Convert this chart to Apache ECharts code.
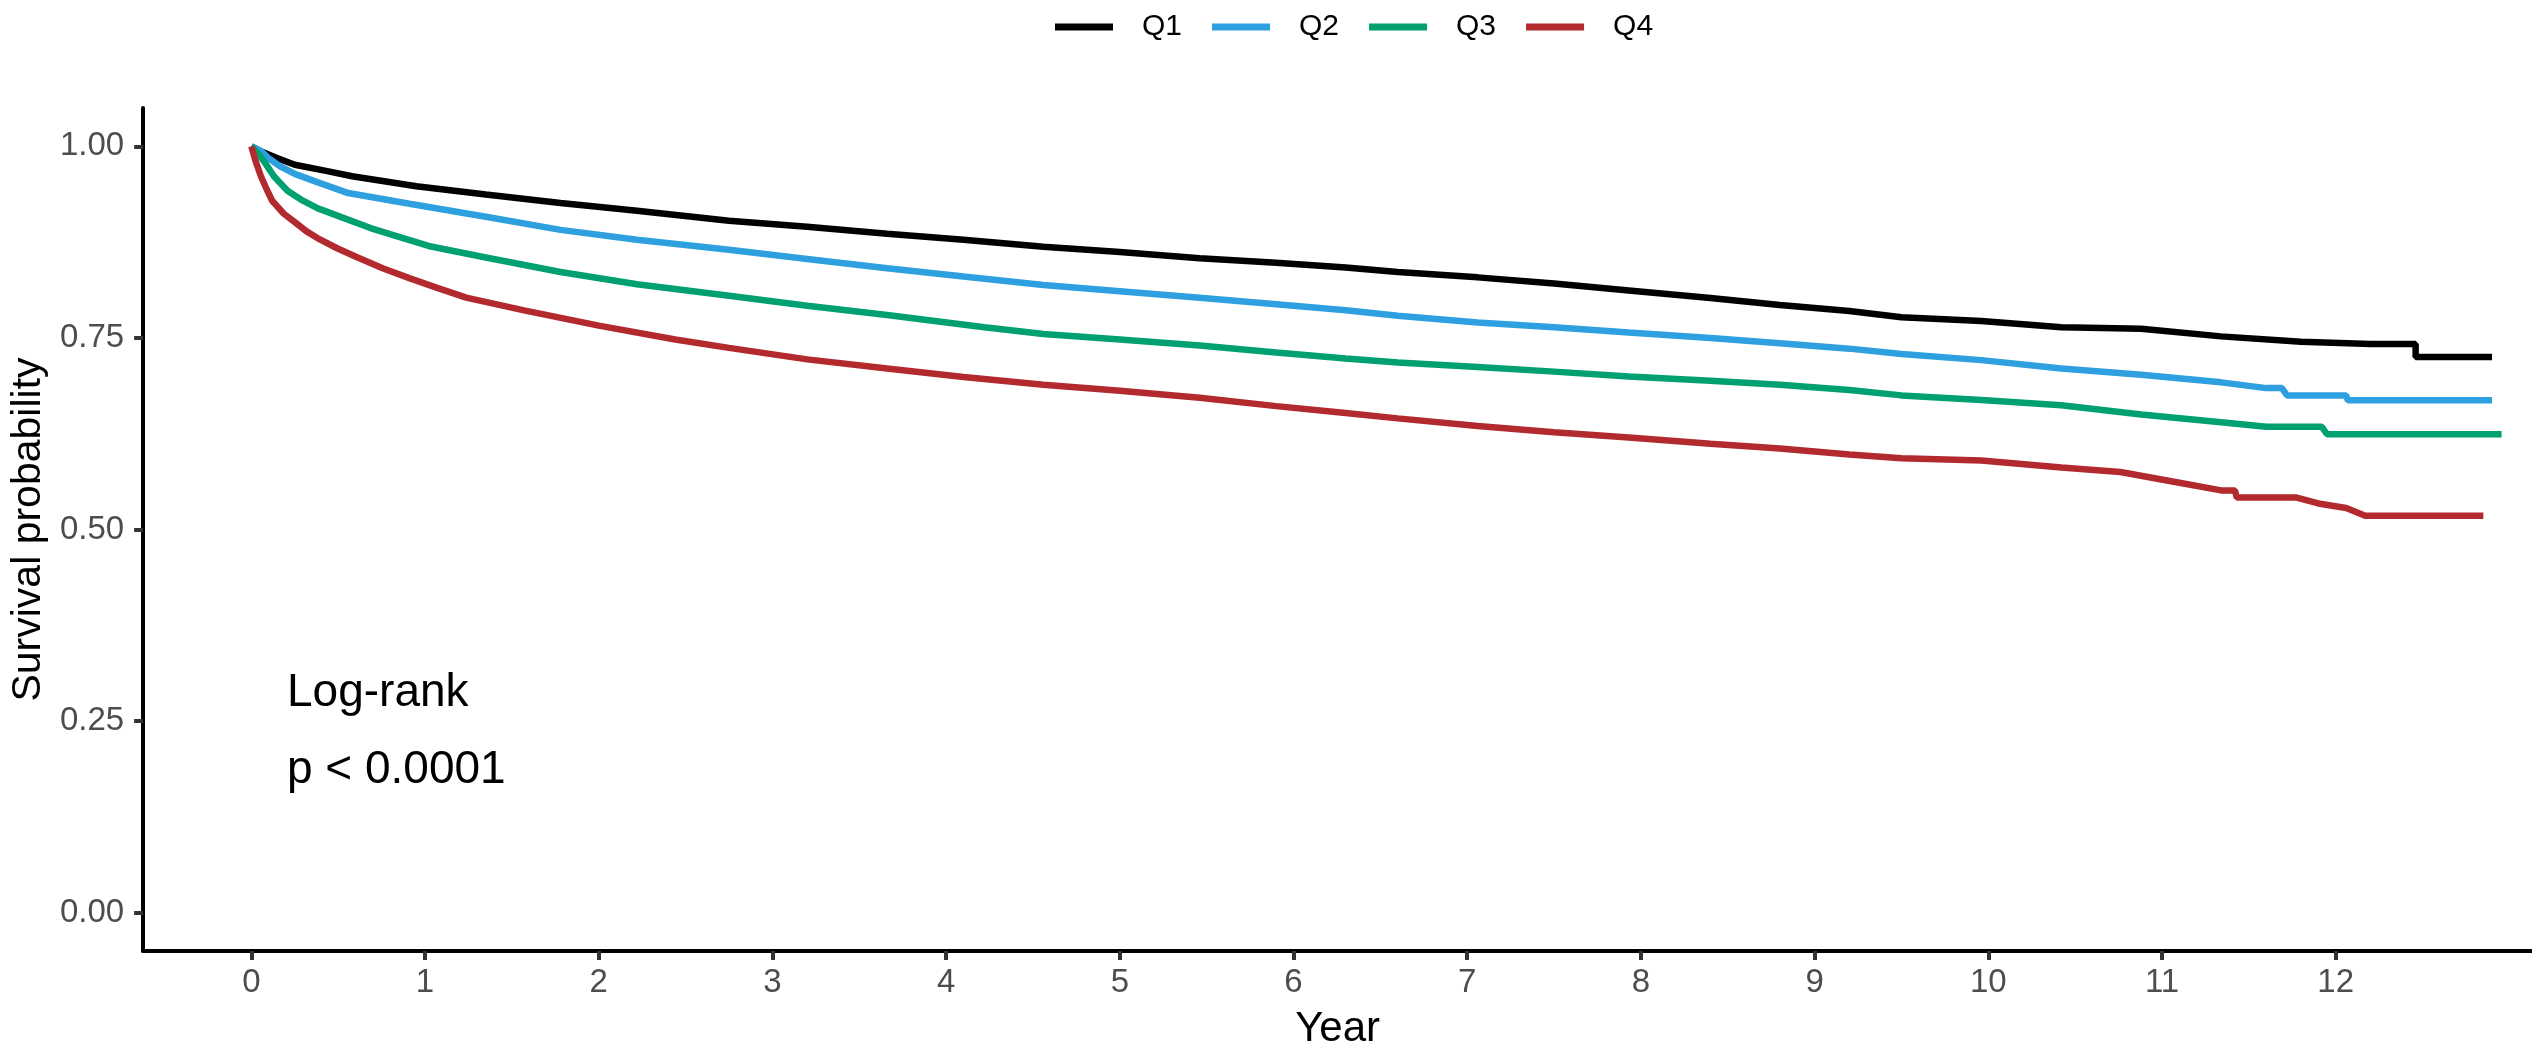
<!DOCTYPE html>
<html>
<head>
<meta charset="utf-8">
<title>Survival by quartile</title>
<script src="https://cdn.jsdelivr.net/npm/echarts@6/dist/echarts.min.js"></script>
<style>
    html, body { margin: 0; padding: 0; background: #fff; }
    #chart { width: 2532px; height: 1055px; }
</style>
</head>
<body>
<div id="chart"></div>
<script>
// groups and colours
const groups = ["Q1", "Q2", "Q3", "Q4"];
const colors = ["#000000", "#2E9FDF", "#00A070", "#B22A2E"];

// tick values
const yearTicks = [0, 1, 2, 3, 4, 5, 6, 7, 8, 9, 10, 11, 12];
const probTicks = [0, 0.25, 0.5, 0.75, 1];

// Kaplan-Meier estimates: [year, survival]
const q1 = [
    [0, 1.0], [0.05, 0.994], [0.144, 0.985], [0.25, 0.976], [0.43, 0.968], [0.58, 0.961],
    [0.95, 0.948], [1.35, 0.937], [1.78, 0.926], [2.22, 0.916], [2.75, 0.903], [3.2, 0.895],
    [3.66, 0.886], [4.1, 0.878], [4.56, 0.869], [5.0, 0.862], [5.46, 0.854], [5.9, 0.848],
    [6.3, 0.842], [6.6, 0.836], [7.06, 0.829], [7.5, 0.821], [7.93, 0.812], [8.4, 0.802],
    [8.8, 0.793], [9.2, 0.785], [9.5, 0.777], [9.96, 0.772], [10.42, 0.764], [10.88, 0.762],
    [11.34, 0.752], [11.8, 0.745], [12.2, 0.742], [12.46, 0.742], [12.46, 0.725], [12.9, 0.725],
];
const q2 = [
    [0, 1.0], [0.055, 0.994], [0.097, 0.985], [0.165, 0.974], [0.25, 0.964], [0.383, 0.953],
    [0.558, 0.939], [0.91, 0.925], [1.35, 0.908], [1.78, 0.891], [2.22, 0.878], [2.75, 0.865],
    [3.2, 0.853], [3.66, 0.841], [4.1, 0.83], [4.56, 0.819], [5.0, 0.811], [5.46, 0.8025],
    [5.9, 0.794], [6.3, 0.786], [6.6, 0.779], [7.06, 0.77], [7.5, 0.764], [7.93, 0.757],
    [8.4, 0.75], [8.8, 0.743], [9.2, 0.736], [9.5, 0.729], [9.96, 0.721], [10.42, 0.71],
    [10.88, 0.702], [11.34, 0.692], [11.6, 0.6845], [11.69, 0.6845], [11.72, 0.675],
    [12.06, 0.675], [12.07, 0.6686], [12.9, 0.6686],
];
const q3 = [
    [0, 1.0], [0.045, 0.989], [0.077, 0.979], [0.13, 0.961], [0.208, 0.942], [0.297, 0.929],
    [0.383, 0.919], [0.537, 0.906], [0.69, 0.893], [1.02, 0.87], [1.35, 0.855], [1.78, 0.836],
    [2.22, 0.82], [2.75, 0.805], [3.2, 0.792], [3.66, 0.78], [4.22, 0.764], [4.56, 0.755],
    [5.0, 0.748], [5.46, 0.74], [5.9, 0.731], [6.3, 0.723], [6.6, 0.718], [7.06, 0.712],
    [7.5, 0.706], [7.93, 0.6995], [8.4, 0.694], [8.8, 0.689], [9.2, 0.682], [9.5, 0.675],
    [9.96, 0.669], [10.42, 0.662], [10.88, 0.65], [11.34, 0.64], [11.6, 0.634], [11.92, 0.634],
    [11.95, 0.6243], [12.955, 0.6243],
];
const q4 = [
    [0, 1.0], [0.024, 0.981], [0.055, 0.961], [0.088, 0.944], [0.12, 0.929], [0.187, 0.912],
    [0.25, 0.901], [0.318, 0.889], [0.383, 0.88], [0.494, 0.867], [0.602, 0.856], [0.756, 0.841],
    [0.909, 0.828], [1.074, 0.815], [1.237, 0.8025], [1.57, 0.786], [2.0, 0.766], [2.44, 0.748],
    [2.75, 0.737], [3.2, 0.722], [3.66, 0.71], [4.1, 0.699], [4.56, 0.689], [5.0, 0.681],
    [5.46, 0.672], [5.9, 0.661], [6.3, 0.652], [6.6, 0.645], [7.06, 0.635], [7.5, 0.627],
    [7.93, 0.62], [8.4, 0.612], [8.8, 0.6058], [9.2, 0.598], [9.5, 0.593], [9.96, 0.59],
    [10.42, 0.581], [10.76, 0.575], [11.1, 0.561], [11.34, 0.551], [11.42, 0.551],
    [11.43, 0.5418], [11.77, 0.5418], [11.9, 0.534], [12.06, 0.528], [12.17, 0.518],
    [12.85, 0.518],
];

const curves = [q1, q2, q3, q4];

const FONT = "'Liberation Sans', Arial, sans-serif";

const chart = echarts.init(document.getElementById("chart"));

const option = {
    animation: false,
    backgroundColor: "#ffffff",
    textStyle: { fontFamily: FONT },
    legend: {
        data: groups,
        left: 1050,
        top: 7,
        icon: "rect",
        itemWidth: 58,
        itemHeight: 7,
        itemGap: 30,
        textStyle: {
            fontFamily: FONT,
            fontSize: 30,
            color: "#000",
            padding: [7, 0, 0, 24],
        },
    },
    grid: {
        left: 130,
        right: 0,
        top: 108,
        bottom: 93,
        containLabel: false,
    },
    xAxis: {
        type: "value",
        min: -0.623,
        max: 13.13,
        name: "Year",
        nameLocation: "middle",
        nameGap: 57,
        nameTextStyle: { fontFamily: FONT, fontSize: 42, color: "#000" },
        axisLine: { show: true, onZero: false, lineStyle: { color: "#000", width: 4 } },
        axisTick: {
            show: true,
            customValues: yearTicks,
            length: 9,
            lineStyle: { color: "#333", width: 4 },
        },
        axisLabel: {
            customValues: yearTicks,
            margin: 15,
            fontFamily: FONT,
            fontSize: 33,
            color: "#4D4D4D",
            formatter: (v) => String(Math.round(v)),
        },
        splitLine: { show: false },
    },
    yAxis: {
        type: "value",
        min: -0.05,
        max: 1.05,
        name: "Survival probability",
        nameLocation: "middle",
        nameGap: 94,
        nameTextStyle: { fontFamily: FONT, fontSize: 41, color: "#000" },
        axisLine: { show: true, onZero: false, lineStyle: { color: "#000", width: 4 } },
        axisTick: {
            show: true,
            customValues: probTicks,
            length: 9,
            lineStyle: { color: "#333", width: 4 },
        },
        axisLabel: {
            customValues: probTicks,
            margin: 19,
            fontFamily: FONT,
            fontSize: 33,
            color: "#4D4D4D",
            formatter: (v) => v.toFixed(2),
        },
        splitLine: { show: false },
    },
    // log-rank annotation inside the panel
    graphic: [
        {
            type: "text",
            left: 287,
            top: 670,
            style: { text: "Log-rank", fontFamily: FONT, fontSize: 46, fill: "#000" },
        },
        {
            type: "text",
            left: 287,
            top: 747,
            style: { text: "p < 0.0001", fontFamily: FONT, fontSize: 46, fill: "#000" },
        },
    ],
    series: groups.map((name, i) => ({
        name: name,
        type: "line",
        data: curves[i],
        showSymbol: false,
        symbol: "none",
        color: colors[i],
        lineStyle: { color: colors[i], width: 6.5 },
        z: 2 + i,
    })),
};

chart.setOption(option);
</script>
</body>
</html>
